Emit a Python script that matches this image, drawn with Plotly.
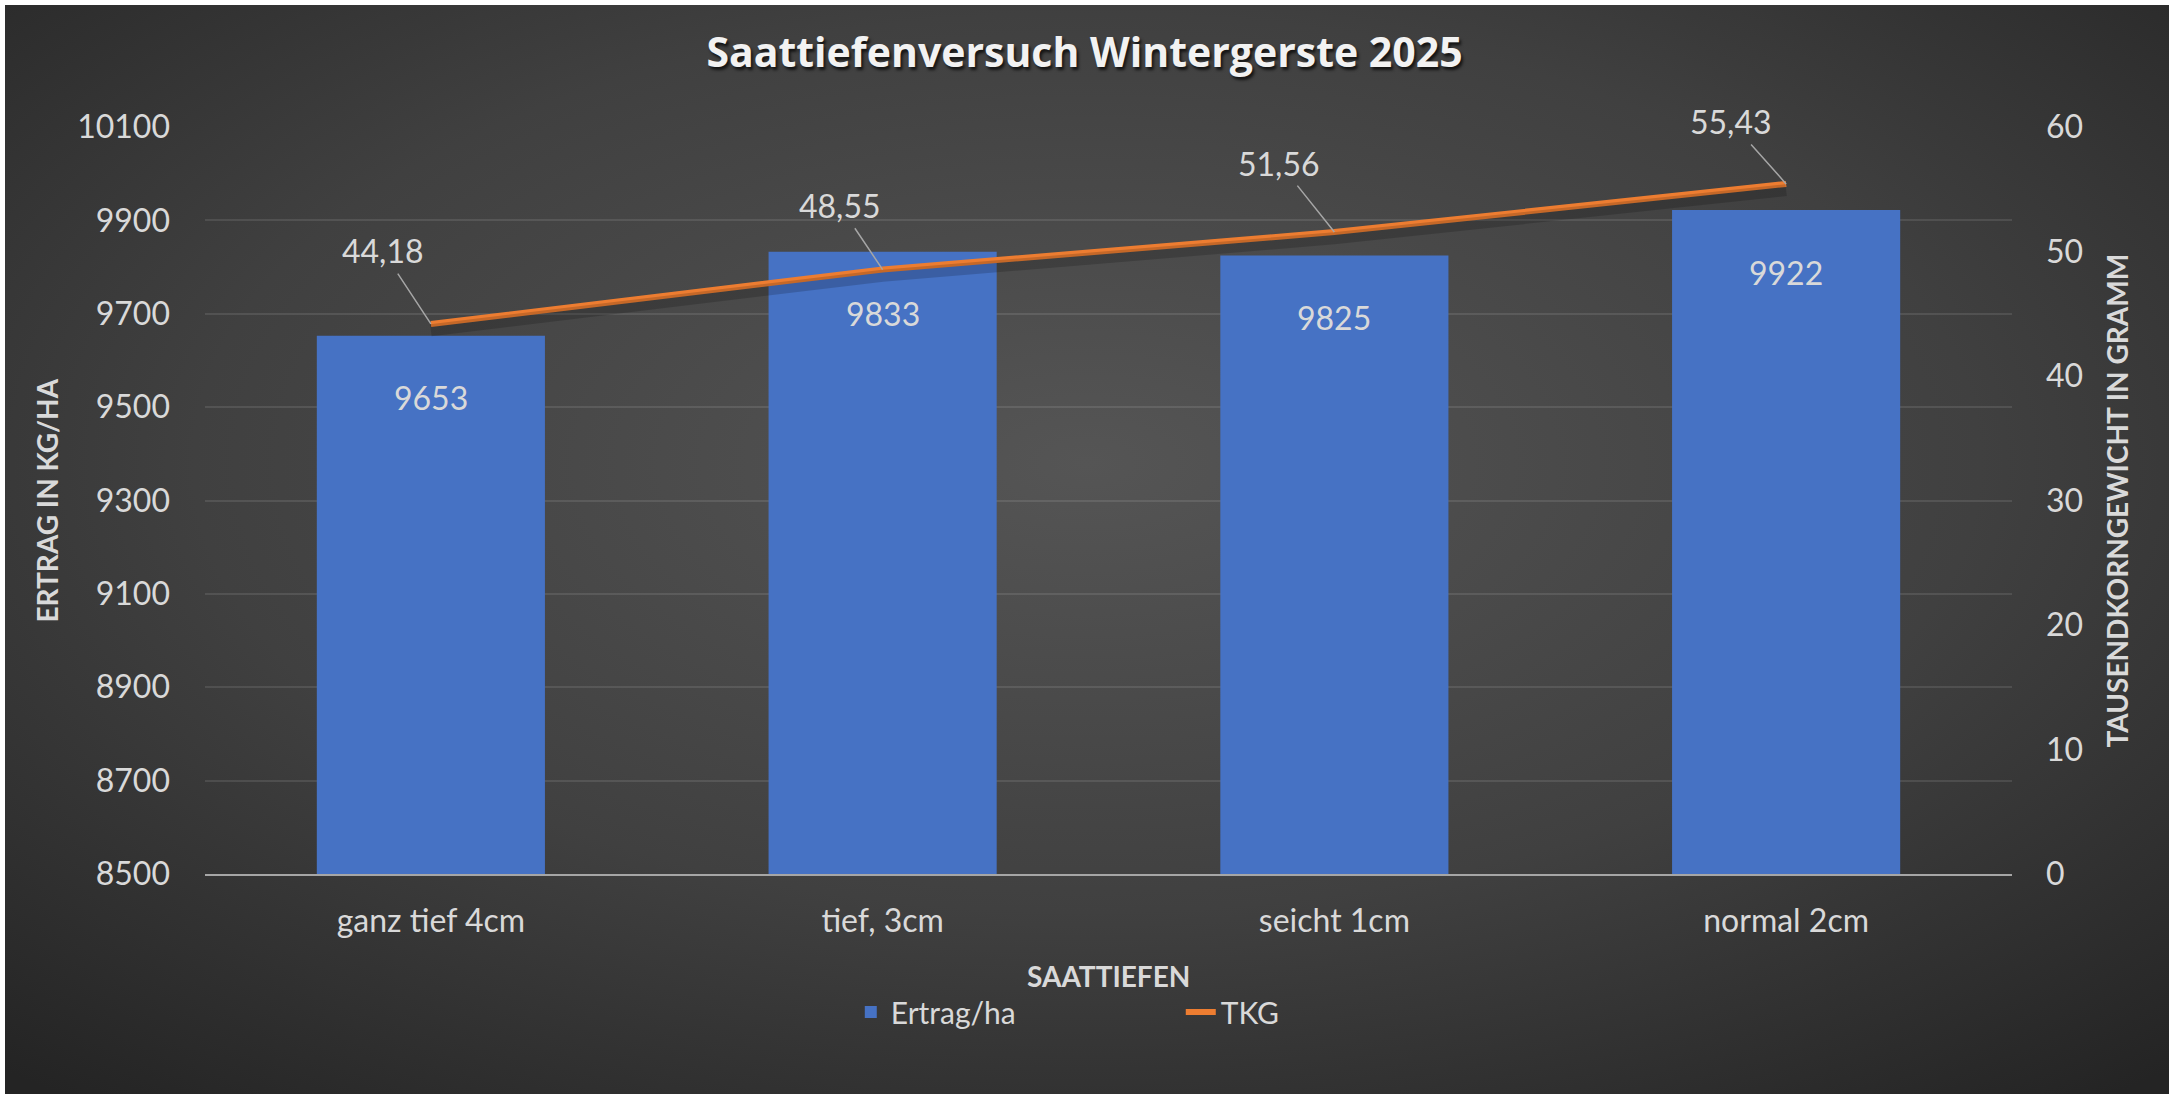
import base64

import plotly.graph_objects as go

# Data
categories = ["ganz tief 4cm", "tief, 3cm", "seicht 1cm", "normal 2cm"]
ertrag = [9653, 9833, 9825, 9922]
tkg = [44.18, 48.55, 51.56, 55.43]
tkg_label_offsets = [(-48, -73), (-43, -64), (-55, -69), (-55, -62)]

FONT = "Lato"
TEXT = "#d9d9d9"

W, H = 2169, 1094
L, R, T, B = 205, 157, 127, 220
pw, ph = W - L - R, H - T - B

# background gradient as svg image
svg = """<svg xmlns='http://www.w3.org/2000/svg' width='400' height='200' preserveAspectRatio='none'>
<defs><radialGradient id='g' cx='50%' cy='42%' r='75%'>
<stop offset='0%' stop-color='#555555'/>
<stop offset='55%' stop-color='#404040'/>
<stop offset='100%' stop-color='#242424'/>
</radialGradient></defs>
<rect width='400' height='200' fill='url(#g)'/></svg>"""
bg_src = "data:image/svg+xml;base64," + base64.b64encode(svg.encode()).decode()

fig = go.Figure()

fig.add_trace(go.Bar(
    x=categories, y=ertrag, name="Ertrag/ha",
    marker=dict(color="#4672c4", line=dict(width=0)),
))

# soft shadow under the TKG line (same data, axis nudged a few px)
fig.add_trace(go.Scatter(
    x=categories, y=tkg, yaxis="y3", mode="lines", showlegend=False,
    hoverinfo="skip", line=dict(color="rgba(0,0,0,0.17)", width=12),
))

fig.add_trace(go.Scatter(
    x=categories, y=tkg, name="TKG", yaxis="y2", mode="lines",
    line=dict(color="#ED7D31", width=6),
))

annotations = []
# bar value labels
for c, v in zip(categories, ertrag):
    annotations.append(dict(
        x=c, y=v, xref="x", yref="y", text=str(v), showarrow=False,
        yshift=-62, font=dict(family=FONT, size=32, color=TEXT),
    ))
# line value labels with leader lines
for c, v, (ax, ay) in zip(categories, tkg, tkg_label_offsets):
    annotations.append(dict(
        x=c, y=v, xref="x", yref="y2", text=f"{v:.2f}".replace(".", ","),
        showarrow=True, arrowhead=0, arrowwidth=1.5, arrowcolor="#a6a6a6",
        ax=ax, ay=ay, standoff=0, startstandoff=2,
        font=dict(family=FONT, size=32, color=TEXT),
    ))
# axis titles
annotations.append(dict(
    text="ERTRAG IN KG/HA", xref="paper", yref="paper", x=0, y=0.5,
    xanchor="center", yanchor="middle",
    xshift=-(L - 46), textangle=-90, showarrow=False,
    font=dict(family=FONT, size=28, color=TEXT, weight="bold"),
))
annotations.append(dict(
    text="TAUSENDKORNGEWICHT IN GRAMM", xref="paper", yref="paper", x=1, y=0.5,
    xanchor="center", yanchor="middle",
    xshift=2116 - (L + pw), textangle=-90, showarrow=False,
    font=dict(family=FONT, size=28, color=TEXT, weight="bold"),
))
annotations.append(dict(
    text="SAATTIEFEN", xref="paper", yref="paper", x=0.5, y=0,
    xanchor="center", yanchor="middle",
    yshift=-(976 - (T + ph)), showarrow=False,
    font=dict(family=FONT, size=28, color=TEXT, weight="bold"),
))

fig.update_layout(
    width=W, height=H,
    margin=dict(l=L, r=R, t=T, b=B),
    paper_bgcolor="white",
    plot_bgcolor="rgba(0,0,0,0)",
    font=dict(family=FONT, color=TEXT),
    bargap=0.495,
    title=dict(
        text="Saattiefenversuch Wintergerste 2025",
        x=0.5, xref="container", xanchor="center",
        y=1 - 53 / H, yref="container", yanchor="middle",
        font=dict(family="Open Sans", size=41, color="#f2f2f2", weight="bold",
                  shadow="2px 3px 3px rgba(0,0,0,0.7)"),
    ),
    xaxis=dict(
        showgrid=False, showline=True, linecolor="#a6a6a6", linewidth=2,
        tickfont=dict(size=32, color=TEXT), ticks="", ticklabelstandoff=18,
    ),
    yaxis=dict(
        range=[8500, 10100], tick0=8500, dtick=200, tickformat="d",
        showgrid=True, gridcolor="rgba(255,255,255,0.1)", gridwidth=2,
        zeroline=False, showline=False, ticks="",
        tickfont=dict(size=32, color=TEXT), ticklabelstandoff=34,
    ),
    yaxis2=dict(
        range=[0, 60], dtick=10, overlaying="y", side="right",
        showgrid=False, zeroline=False, showline=False, ticks="",
        tickfont=dict(size=32, color=TEXT), ticklabelstandoff=33,
    ),
    yaxis3=dict(
        range=[0.5, 60.5], overlaying="y", visible=False,
    ),
    legend=dict(
        orientation="h", x=0.54, xanchor="center",
        y=-(1012 - (T + ph)) / ph, yanchor="middle",
        font=dict(size=30, color=TEXT),
        entrywidth=285, bgcolor="rgba(0,0,0,0)",
    ),
    annotations=annotations,
    images=[dict(
        source=bg_src, xref="paper", yref="paper",
        x=(5 - L) / pw, y=(T + ph - 5) / ph,
        sizex=(W - 5) / pw, sizey=(H - 5) / ph,
        xanchor="left", yanchor="top", sizing="stretch", layer="below",
    )],
)

fig.write_html(
    "out.html",
    config={"displayModeBar": False},
    post_script="document.body.style.margin = '0';",
)
